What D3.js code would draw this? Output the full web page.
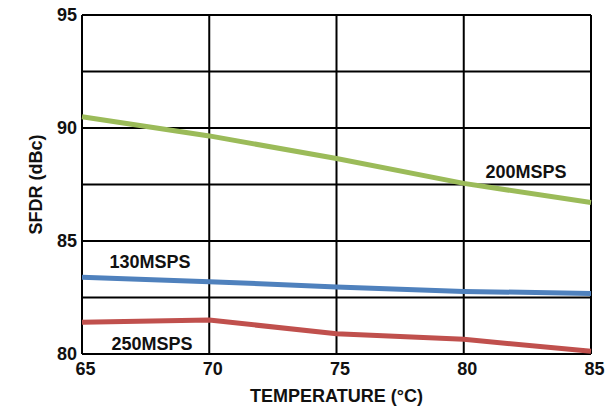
<!DOCTYPE html>
<html>
<head>
<meta charset="utf-8">
<script src="https://cdn.jsdelivr.net/npm/d3@7"></script>
<style>
  body { margin: 0; background: #fff; }
  text { font-family: "Liberation Sans", Arial, sans-serif; font-weight: bold; fill: #111; }
</style>
</head>
<body>
<div id="graf"></div>
<script>
// Datos
temps = [65, 70, 75, 80, 85]
sfdr200 = [90.5, 89.65, 88.65, 87.55, 86.7]
sfdr130 = [83.4, 83.2, 82.97, 82.77, 82.68]
sfdr250 = [81.4, 81.5, 80.9, 80.65, 80.12]
yTicks = [80, 85, 90, 95]
yGrid = [80, 82.5, 85, 87.5, 90, 92.5, 95]

series = [
  { name: '200MSPS', values: sfdr200, color: '#9bbb59', lx: 526, ly: 178 },
  { name: '130MSPS', values: sfdr130, color: '#4f81bd', lx: 150, ly: 268 },
  { name: '250MSPS', values: sfdr250, color: '#c0504d', lx: 152, ly: 350 }
]

ancho_total = 616
alto_total = 409
margins = { top: 15, left: 82, right: 25, bottom: 55 }
ancho = ancho_total - margins.left - margins.right
alto = alto_total - margins.top - margins.bottom

svg = d3.select('#graf').append('svg')
  .attr('width', ancho_total)
  .attr('height', alto_total)

g = svg.append('g')
  .attr('transform', `translate(${margins.left}, ${margins.top})`)

// Escaladores
x = d3.scaleLinear().domain([65, 85]).range([0, ancho])
y = d3.scaleLinear().domain([80, 95]).range([alto, 0])

// Rejilla
g.selectAll('.hgrid').data(yGrid).enter().append('line')
  .attr('x1', 0).attr('x2', ancho)
  .attr('y1', d => y(d)).attr('y2', d => y(d))
  .attr('stroke', '#000').attr('stroke-width', 2)
g.selectAll('.vgrid').data(temps).enter().append('line')
  .attr('y1', 0).attr('y2', alto)
  .attr('x1', d => x(d)).attr('x2', d => x(d))
  .attr('stroke', '#000').attr('stroke-width', 2)

// Ejes
xAxis = g.append('g')
  .attr('transform', `translate(0, ${alto})`)
  .call(d3.axisBottom(x).tickValues(temps).tickSize(0).tickPadding(8))
xAxis.select('.domain').remove()
xAxis.selectAll('text').attr('font-size', 18).attr('dx', 3).attr('dy', '0.72em')

yAxis = g.append('g')
  .call(d3.axisLeft(y).tickValues(yTicks).tickSize(0).tickPadding(5))
yAxis.select('.domain').remove()
yAxis.selectAll('text').attr('font-size', 18)

// Lineas
lineaGen = d3.line()
  .x((d, i) => x(temps[i]))
  .y(d => y(d))

series.forEach(s => {
  g.append('path')
    .attr('d', lineaGen(s.values))
    .attr('fill', 'none')
    .attr('stroke', s.color)
    .attr('stroke-width', 5)
  svg.append('text')
    .attr('x', s.lx).attr('y', s.ly)
    .attr('text-anchor', 'middle')
    .attr('font-size', 18)
    .text(s.name)
})

// Titulos
svg.append('text')
  .attr('x', margins.left + ancho / 2).attr('y', 402)
  .attr('text-anchor', 'middle')
  .attr('font-size', 18)
  .text('TEMPERATURE (°C)')

svg.append('text')
  .attr('transform', `translate(42, ${margins.top + alto / 2}) rotate(-90)`)
  .attr('text-anchor', 'middle')
  .attr('font-size', 18)
  .text('SFDR (dBc)')
</script>
</body>
</html>
